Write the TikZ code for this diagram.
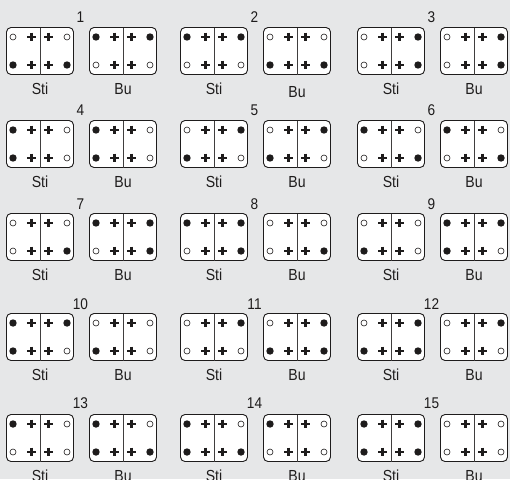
\documentclass[tikz,border=0pt]{standalone}
\usepackage{fontspec}
\newfontfamily\lblfont[FakeStretch=0.88]{Liberation Sans}
\usetikzlibrary{calc}
\definecolor{bg}{RGB}{230,231,232}
\definecolor{ink}{RGB}{30,28,28}
\tikzset{
 card/.style={draw=ink, line width=0.9pt, fill=white, rounded corners=4.5pt, minimum width=67pt, minimum height=47pt, inner sep=0pt, outer sep=0pt},
 midline/.style={draw=ink!85, line width=0.8pt},
 fd/.style={fill=ink, radius=3.7pt},
 od/.style={draw=ink, fill=white, line width=0.6pt, radius=3pt},
 crs/.style={draw=ink, line width=2.4pt},
 lbl/.style={font=\lblfont\fontsize{16}{16}\selectfont, text=ink, inner sep=0pt, anchor=base},
 num/.style={font=\lblfont\fontsize{15.5}{15.5}\selectfont, text=ink, inner sep=0pt},
}
% name, x, y, TL, TR, BL, BR, label, label offset
\newcommand\mkcard[9]{%
 \node[card] (#1) at (#2,#3) {};
 \draw[midline] (#1.north) -- (#1.south);
 \path[#4] ($(#1.center)+(-27,-14)$) circle;
 \path[#5] ($(#1.center)+(27,-14)$) circle;
 \path[#6] ($(#1.center)+(-27,14)$) circle;
 \path[#7] ($(#1.center)+(27,14)$) circle;
 \draw[crs] ($(#1.center)+(-8.5,-14)$) +(-4.4,0) -- +(4.4,0) +(0,-4.4) -- +(0,4.4);
 \draw[crs] ($(#1.center)+(8.5,-14)$) +(-4.4,0) -- +(4.4,0) +(0,-4.4) -- +(0,4.4);
 \draw[crs] ($(#1.center)+(-8.5,14)$) +(-4.4,0) -- +(4.4,0) +(0,-4.4) -- +(0,4.4);
 \draw[crs] ($(#1.center)+(8.5,14)$) +(-4.4,0) -- +(4.4,0) +(0,-4.4) -- +(0,4.4);
 \node[lbl] (#1l) at ($(#1.south)+(0,#9)$) {#8};
}
\begin{document}
\begin{tikzpicture}[x=1pt,y=-1pt]
\fill[bg] (0,0) rectangle (510,479);
\useasboundingbox (0,0) rectangle (510,479);
% row 1
\node[num] (n1) at (80.5,17) {1};
\mkcard{s1}{40}{51}{od}{od}{fd}{fd}{Sti}{20}
\mkcard{b1}{123}{51}{fd}{fd}{od}{od}{Bu}{20}
\node[num] (n2) at (254.5,17) {2};
\mkcard{s2}{214}{51}{fd}{fd}{od}{od}{Sti}{20}
\mkcard{b2}{297}{51}{od}{od}{fd}{fd}{Bu}{23}
\node[num] (n3) at (431.5,17) {3};
\mkcard{s3}{391}{51}{od}{fd}{od}{fd}{Sti}{20}
\mkcard{b3}{474}{51}{od}{fd}{od}{fd}{Bu}{20}
% row 2
\node[num] (n4) at (80.5,110) {4};
\mkcard{s4}{40}{144}{fd}{od}{fd}{od}{Sti}{20}
\mkcard{b4}{123}{144}{fd}{od}{fd}{od}{Bu}{20}
\node[num] (n5) at (254.5,110) {5};
\mkcard{s5}{214}{144}{od}{fd}{fd}{od}{Sti}{20}
\mkcard{b5}{297}{144}{od}{fd}{fd}{od}{Bu}{20}
\node[num] (n6) at (431.5,110) {6};
\mkcard{s6}{391}{144}{fd}{od}{od}{fd}{Sti}{20}
\mkcard{b6}{474}{144}{fd}{od}{od}{fd}{Bu}{20}
% row 3
\node[num] (n7) at (80.5,204) {7};
\mkcard{s7}{40}{237}{od}{od}{od}{fd}{Sti}{20}
\mkcard{b7}{123}{237}{fd}{fd}{od}{fd}{Bu}{20}
\node[num] (n8) at (254.5,204) {8};
\mkcard{s8}{214}{237}{fd}{fd}{od}{fd}{Sti}{20}
\mkcard{b8}{297}{237}{od}{od}{od}{fd}{Bu}{20}
\node[num] (n9) at (431.5,204) {9};
\mkcard{s9}{391}{237}{od}{od}{fd}{od}{Sti}{20}
\mkcard{b9}{474}{237}{fd}{fd}{fd}{od}{Bu}{20}
% row 4
\node[num] (n10) at (80.5,304) {10};
\mkcard{s10}{40}{337}{fd}{fd}{fd}{od}{Sti}{20}
\mkcard{b10}{123}{337}{od}{od}{fd}{od}{Bu}{20}
\node[num] (n11) at (254.5,304) {11};
\mkcard{s11}{214}{337}{od}{fd}{od}{od}{Sti}{20}
\mkcard{b11}{297}{337}{od}{fd}{fd}{fd}{Bu}{20}
\node[num] (n12) at (431.5,304) {12};
\mkcard{s12}{391}{337}{od}{fd}{fd}{fd}{Sti}{20}
\mkcard{b12}{474}{337}{od}{fd}{od}{od}{Bu}{20}
% row 5
\node[num] (n13) at (80.5,403) {13};
\mkcard{s13}{40}{438}{fd}{od}{od}{od}{Sti}{20}
\mkcard{b13}{123}{438}{fd}{od}{fd}{fd}{Bu}{20}
\node[num] (n14) at (254.5,403) {14};
\mkcard{s14}{214}{438}{fd}{od}{fd}{fd}{Sti}{20}
\mkcard{b14}{297}{438}{fd}{od}{od}{od}{Bu}{20}
\node[num] (n15) at (431.5,403) {15};
\mkcard{s15}{391}{438}{fd}{fd}{fd}{fd}{Sti}{20}
\mkcard{b15}{474}{438}{od}{od}{od}{od}{Bu}{20}
\end{tikzpicture}
\end{document}
